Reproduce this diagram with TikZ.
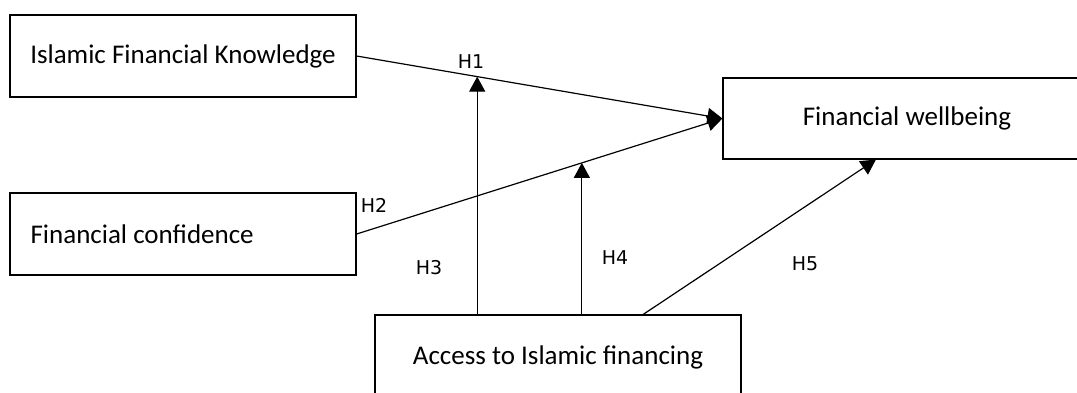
\documentclass[tikz,border=0pt]{standalone}
\usepackage{fontspec}
\setmainfont{Carlito}
\newfontfamily\hfont{DejaVu Sans}
\usetikzlibrary{arrows.meta,calc}
\begin{document}
\begin{tikzpicture}[x=1pt,y=-1pt,
  box/.style={draw,line width=1.2pt,inner sep=0pt,font=\fontsize{27}{31}\selectfont},
  btext/.style={inner sep=0pt,font=\fontsize{27}{31}\selectfont},
  link/.style={line width=1.2pt},
  arr/.style={link,-{Triangle[length=15pt,width=16pt]}},
  hlab/.style={font=\hfont\fontsize{19}{22}\selectfont,inner sep=0pt}]
\useasboundingbox (0,0) rectangle (1077,392);
\node[box,minimum width=346pt,minimum height=82pt] (ifk) at (183,56) {Islamic Financial Knowledge};
\node[box,minimum width=346pt,minimum height=82pt] (fc) at (183,234) {};
\node[btext,anchor=west] (fct) at ($(fc.west)+(21,0)$) {Financial confidence};
\node[box,minimum width=360pt,minimum height=81pt] (fw) at (903,118.5) {};
\node[btext] (fwt) at (907,118.5) {Financial wellbeing};
\node[box,minimum width=366pt,minimum height=84pt] (acc) at (558,357) {Access to Islamic financing};
\coordinate (m1) at ($(ifk.east)!0.3297!(fw.west)$);
\coordinate (m2) at ($(fc.east)!0.6158!(fw.west)$);
\coordinate (a5) at ($(acc.north west)!0.732!(acc.north east)$);
\coordinate (f5) at ($(fw.south west)!0.425!(fw.south east)$);
\draw[arr] (ifk.east) -- (fw.west);
\draw[arr] (fc.east) -- (fw.west);
\draw[arr] (acc.north -| m1) -- (m1);
\draw[arr] (acc.north -| m2) -- (m2);
\draw[arr] (a5) -- (f5);
\node[hlab] (h1) at (471,62) {H1};
\node[hlab] (h2) at (374,205) {H2};
\node[hlab] (h3) at (429,268) {H3};
\node[hlab] (h4) at (615,258) {H4};
\node[hlab] (h5) at (805,264) {H5};
\end{tikzpicture}
\end{document}
